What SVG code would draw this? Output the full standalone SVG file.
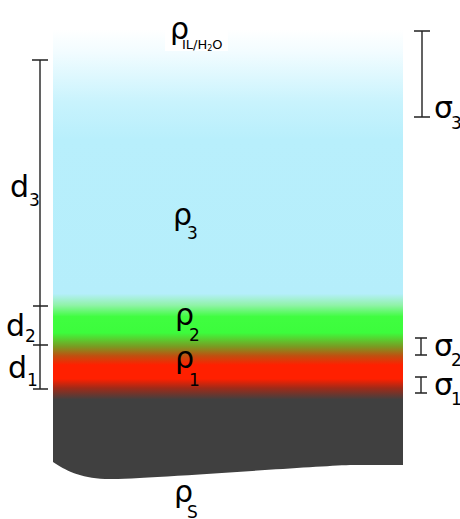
<svg xmlns="http://www.w3.org/2000/svg" width="460" height="519" viewBox="0 0 460 519">
<style>
.t{font-family:"DejaVu Sans","Liberation Sans",sans-serif;fill:#000}
.b{font-size:30px}
.s{font-size:17px}
.sm{font-size:13px}
.bar{stroke:#222;stroke-width:1.4;fill:none}
</style>
<defs>
<linearGradient id="g" gradientUnits="userSpaceOnUse" x1="0" y1="20" x2="0" y2="480">
<stop offset="0" stop-color="#ffffff"/>
<stop offset="0.02" stop-color="#ffffff"/>
<stop offset="0.07" stop-color="#f2fcff"/>
<stop offset="0.18" stop-color="#c8f3fd"/>
<stop offset="0.26" stop-color="#b8effc"/>
<stop offset="0.595" stop-color="#b5eefb"/>
<stop offset="0.62" stop-color="#90f3a8"/>
<stop offset="0.645" stop-color="#40fd40"/>
<stop offset="0.68" stop-color="#3cfc3c"/>
<stop offset="0.71" stop-color="#7a9a22"/>
<stop offset="0.73" stop-color="#c05010"/>
<stop offset="0.75" stop-color="#ff2000"/>
<stop offset="0.78" stop-color="#ff2000"/>
<stop offset="0.80" stop-color="#a02a18"/>
<stop offset="0.825" stop-color="#404040"/>
<stop offset="1" stop-color="#404040"/>
</linearGradient>
</defs>
<g id="layers">
<path d="M53,25 L403,25 L403,465 L350,465 C300,467 130,480 105,479 C80,478 65,470 53,462 Z" fill="url(#g)"/>
<rect x="165" y="15" width="63" height="36" fill="#ffffff"/>
</g>
<g id="connectors">
<path class="bar" d="M40,60 V389 M32,60 H48 M33,306 H48 M33,345 H48 M33,389 H48"/>
<path class="bar" d="M422,31 V117 M414,31 H430 M414,117 H430"/>
<path class="bar" d="M421,338 V355 M415,338 H427 M415,355 H427"/>
<path class="bar" d="M421,377 V393 M415,377 H427 M415,393 H427"/>
</g>
<g id="rho-top"><text class="t b" x="170" y="39">ρ</text><text class="t sm" x="182" y="49">IL/H<tspan font-size="8" dy="2">2</tspan><tspan dy="-2">O</tspan></text></g>
<g id="rho3"><text class="t b" x="173" y="225">ρ</text><text class="t s" x="187" y="239">3</text></g>
<g id="rho2"><text class="t b" x="175" y="325">ρ</text><text class="t s" x="189" y="341">2</text></g>
<g id="rho1"><text class="t b" x="175" y="368">ρ</text><text class="t s" x="189" y="386">1</text></g>
<g id="rhoS"><text class="t b" x="174" y="502">ρ</text><text class="t s" x="187" y="518">S</text></g>
<g id="d3"><text class="t b" x="10" y="197">d</text><text class="t s" x="29" y="206">3</text></g>
<g id="d2"><text class="t b" x="6" y="336">d</text><text class="t s" x="25" y="342">2</text></g>
<g id="d1"><text class="t b" x="8" y="378">d</text><text class="t s" x="27" y="386">1</text></g>
<g id="s3"><text class="t b" x="434" y="118">σ</text><text class="t s" x="451" y="129">3</text></g>
<g id="s2"><text class="t b" x="434" y="356">σ</text><text class="t s" x="451" y="366">2</text></g>
<g id="s1"><text class="t b" x="434" y="395">σ</text><text class="t s" x="451" y="405">1</text></g>
</svg>
